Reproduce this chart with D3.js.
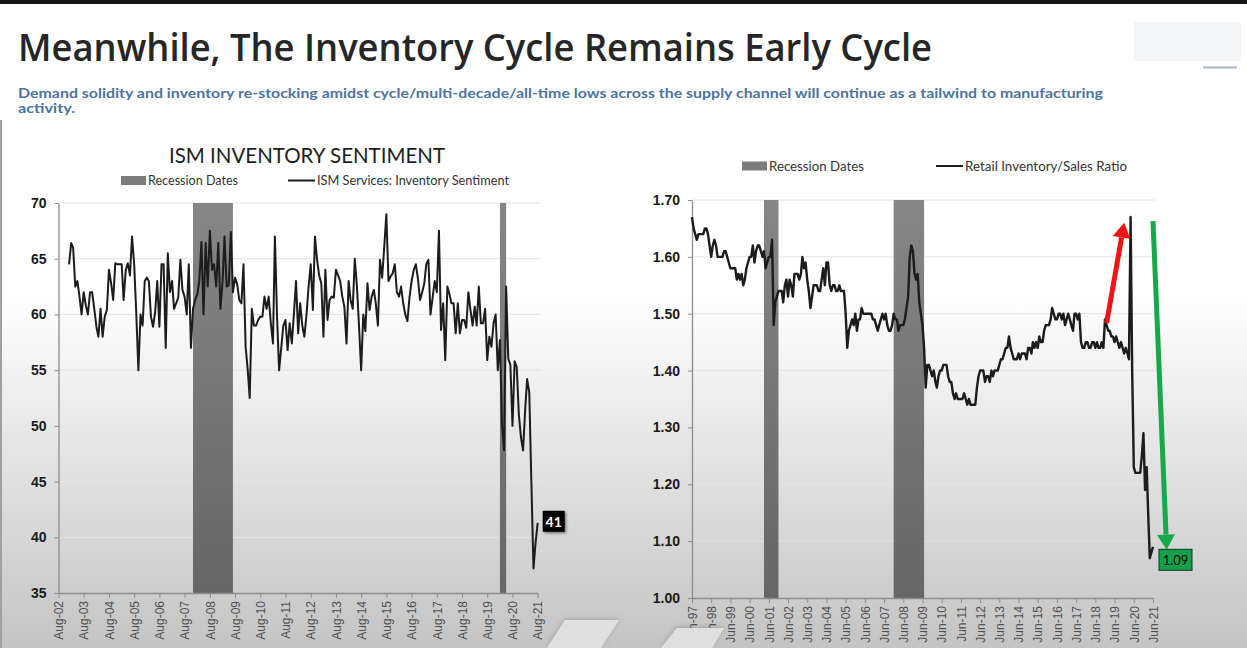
<!DOCTYPE html>
<html>
<head>
<meta charset="utf-8">
<script src="https://cdn.jsdelivr.net/npm/d3@7"></script>
<style>
  body { margin: 0; background: #fff; overflow: hidden; }
  svg { display: block; font-family: Lato, 'Open Sans', sans-serif; }
</style>
</head>
<body>
<svg id="slide" width="1247" height="648"></svg>
<script>
// ISM services inventory sentiment, monthly from Jan-03 to Aug-21
var ismValues = [
  64.5,66.4,66,62.5,63,61.6,60,62,60.8,60,62,62,60.5,58.9,58,60.5,58,59.8,60.4,64,62.8,61.3,64.6,64.5,64.5,64.5,61.3,64,64.6,63.5,67,64.5,60,55,
  60,59,63,63.3,63,59.8,58.9,60.2,63,58.9,64.5,64.5,57,65.5,62,63,60.5,61,61.5,64.9,62.2,61.6,60,64.5,57,60.5,61.3,61.8,63,66.5,
  60,66.4,62.5,67.5,64,64.5,62.5,66.4,60.5,63,67,62.5,62.6,67.4,62,63.3,62.7,61.3,61,64.5,57.1,55,52.5,
  60.5,59,59,59.5,59.8,59.8,61.6,60.5,61.6,59.2,57.4,67,59.8,55,57,59,59.5,56.8,59.2,57.4,60,63,58.3,61,59,58,60,62.5,64.5,60.4,
  67,64.9,63.5,62.8,58,64,59.5,61.3,61.6,61.5,64,63.5,63,61.6,60.7,57.4,63,61.3,60.5,65,62.5,59,55,60,58.5,62.8,60.4,61.6,62.2,61,
  59,64.9,63.3,66,69,
  63,63.4,63.7,64.5,62,61.6,62.5,61,60,59.4,61.5,63,64,64.5,63.2,61.3,62,62.8,64.5,64.9,60,61.5,63,62,67.5,58.6,61,55.9,62.5,61.8,
  61,61,58.3,61,58.3,59.5,59.5,58.8,62,60.4,59,60.7,59,62.5,59.2,59.2,60.5,55.9,58,57.1,59.2,60,55,
  57.7,50.2,47.8,62.5,56,55.5,50,55.8,55.3,51,49,47.8,51.5,54.2,53,45,37.2,39.5,41.3
];
var ismStart = new Date(2003, 0, 1);

// retail inventory/sales ratio, monthly from Jun-97 to Jun-21 (one row = Jun..May)
var rirValues = [
  1.67,1.65,1.64,1.63,1.64,1.64,1.64,1.64,1.65,1.65,1.64,1.62,
  1.60,1.62,1.63,1.62,1.60,1.60,1.60,1.60,1.61,1.61,1.60,1.59,
  1.58,1.58,1.58,1.58,1.56,1.57,1.56,1.57,1.55,1.56,1.58,1.59,
  1.60,1.60,1.62,1.59,1.61,1.62,1.62,1.61,1.60,1.61,1.58,1.59,
  1.60,1.60,1.63,1.48,1.52,1.53,1.54,1.54,1.54,1.52,1.55,1.56,
  1.53,1.56,1.55,1.53,1.57,1.57,1.57,1.56,1.57,1.60,1.58,1.59,
  1.56,1.54,1.51,1.53,1.55,1.55,1.55,1.54,1.54,1.56,1.58,1.55,
  1.59,1.59,1.55,1.54,1.55,1.55,1.54,1.54,1.55,1.54,1.54,1.54,
  1.50,1.44,1.47,1.48,1.49,1.48,1.50,1.47,1.49,1.49,1.51,1.50,
  1.50,1.50,1.50,1.50,1.50,1.49,1.49,1.48,1.47,1.48,1.49,1.50,
  1.49,1.50,1.48,1.47,1.47,1.48,1.50,1.49,1.49,1.47,1.48,1.48,
  1.48,1.49,1.51,1.53,1.60,1.62,1.61,1.57,1.56,1.57,1.52,1.50,
  1.48,1.44,1.37,1.41,1.41,1.40,1.39,1.40,1.38,1.37,1.39,1.40,
  1.40,1.41,1.41,1.41,1.39,1.38,1.38,1.36,1.35,1.36,1.35,1.35,
  1.35,1.35,1.36,1.35,1.34,1.35,1.34,1.34,1.34,1.34,1.37,1.39,
  1.40,1.40,1.40,1.38,1.39,1.39,1.38,1.40,1.39,1.40,1.40,1.40,
  1.41,1.42,1.42,1.43,1.44,1.44,1.46,1.44,1.43,1.42,1.42,1.42,
  1.43,1.42,1.43,1.43,1.43,1.42,1.44,1.44,1.43,1.45,1.44,1.45,
  1.44,1.46,1.45,1.45,1.47,1.48,1.48,1.48,1.49,1.51,1.50,1.49,
  1.49,1.50,1.50,1.49,1.50,1.48,1.49,1.50,1.49,1.48,1.47,1.50,
  1.50,1.49,1.50,1.45,1.44,1.44,1.45,1.45,1.44,1.44,1.45,1.45,
  1.44,1.45,1.44,1.44,1.45,1.44,1.49,1.48,1.47,1.47,1.46,1.46,
  1.45,1.46,1.45,1.44,1.45,1.44,1.43,1.44,1.43,1.42,1.67,1.40,
  1.23,1.22,1.22,1.22,1.22,1.25,1.29,1.19,1.23,1.15,1.07,1.08,
  1.09
];
var rirStart = new Date(1997, 5, 1);

// recession periods [start, end]
var ismRecessions = [[new Date(2007, 11, 1), new Date(2009, 6, 1)], [new Date(2020, 1, 1), new Date(2020, 4, 1)]];
var rirRecessions = [[new Date(2001, 2, 1), new Date(2001, 11, 1)], [new Date(2007, 11, 1), new Date(2009, 6, 1)]];

var ismTicks = [35, 40, 45, 50, 55, 60, 65, 70];
var rirTicks = [1.0, 1.1, 1.2, 1.3, 1.4, 1.5, 1.6, 1.7];
var ismYears = d3.range(2002, 2022);
var rirYears = d3.range(1997, 2022);

// arrows on the right chart [date, value]
var redArrow = [[new Date(2019, 0, 1), 1.484], [new Date(2019, 11, 1), 1.66]];
var greenArrow = [[new Date(2021, 5, 1), 1.663], [new Date(2022, 1, 15), 1.085]];

var svg = d3.select('#slide');
var defs = svg.append('defs');

var bg = defs.append('linearGradient').attr('id', 'bgGrad')
  .attr('gradientUnits', 'userSpaceOnUse').attr('x1', 0).attr('y1', 0).attr('x2', 0).attr('y2', 648);
bg.append('stop').attr('offset', 0.45).attr('stop-color', '#ffffff');
bg.append('stop').attr('offset', 1).attr('stop-color', '#c4c4c4');

var rg = defs.append('linearGradient').attr('id', 'recGrad')
  .attr('x1', 0).attr('y1', 0).attr('x2', 0).attr('y2', 1);
rg.append('stop').attr('offset', 0).attr('stop-color', '#868686');
rg.append('stop').attr('offset', 1).attr('stop-color', '#666666');

var sh = defs.append('filter').attr('id', 'shadow').attr('x', '-30%').attr('y', '-30%').attr('width', '170%').attr('height', '170%');
sh.append('feDropShadow').attr('dx', 1.5).attr('dy', 1.5).attr('stdDeviation', 1.2).attr('flood-color', '#000').attr('flood-opacity', 0.45);
var sh2 = defs.append('filter').attr('id', 'softShadow').attr('x', '-30%').attr('y', '-50%').attr('width', '170%').attr('height', '200%');
sh2.append('feDropShadow').attr('dx', 0).attr('dy', -1).attr('stdDeviation', 2.5).attr('flood-color', '#000').attr('flood-opacity', 0.2);

svg.append('rect').attr('width', 1247).attr('height', 648).attr('fill', 'url(#bgGrad)');
svg.append('rect').attr('width', 1247).attr('height', 4).attr('fill', '#151515');
svg.append('rect').attr('x', 0).attr('y', 120).attr('width', 2).attr('height', 528).attr('fill', '#a0a0a0');

// slide header
svg.append('rect').attr('x', 1134).attr('y', 22).attr('width', 107).attr('height', 39).attr('fill', '#f4f5f6');
svg.append('line').attr('x1', 1203).attr('x2', 1237).attr('y1', 67.5).attr('y2', 67.5)
  .attr('stroke', '#a9b1c7').attr('stroke-width', 2);

svg.append('text')
  .attr('x', 18).attr('y', 61)
  .attr('textLength', 914).attr('lengthAdjust', 'spacingAndGlyphs')
  .style('font-family', "'Open Sans', sans-serif")
  .style('font-size', '38px').style('font-weight', 600).attr('fill', '#262626')
  .text('Meanwhile, The Inventory Cycle Remains Early Cycle');

svg.append('text')
  .attr('x', 18).attr('y', 98)
  .attr('textLength', 1085).attr('lengthAdjust', 'spacingAndGlyphs')
  .style('font-size', '13px').style('font-weight', 700).attr('fill', '#4e73a0')
  .text('Demand solidity and inventory re-stocking amidst cycle/multi-decade/all-time lows across the supply channel will continue as a tailwind to manufacturing');
svg.append('text')
  .attr('x', 18).attr('y', 113)
  .attr('textLength', 57).attr('lengthAdjust', 'spacingAndGlyphs')
  .style('font-size', '13px').style('font-weight', 700).attr('fill', '#4e73a0')
  .text('activity.');

function drawPanel(p) {
  var x = d3.scaleTime().domain([p.xStart, p.xEnd]).range([p.left, p.right]);
  var y = d3.scaleLinear().domain([p.yTicks[0], p.yTicks[p.yTicks.length - 1]]).range([p.bottom, p.top]);
  var g = svg.append('g');

  g.selectAll('line.grid').data(p.yTicks.slice(1)).join('line')
    .attr('class', 'grid')
    .attr('x1', p.left).attr('x2', p.right + 3)
    .attr('y1', function(d) { return y(d); }).attr('y2', function(d) { return y(d); })
    .attr('stroke', '#e4e4e4').attr('stroke-width', 1);

  g.selectAll('rect.rec').data(p.recessions).join('rect')
    .attr('class', 'rec')
    .attr('x', function(d) { return x(d[0]); })
    .attr('width', function(d) { return x(d[1]) - x(d[0]); })
    .attr('y', p.top).attr('height', p.bottom - p.top)
    .attr('fill', 'url(#recGrad)');

  var ya = g.append('g')
    .attr('transform', 'translate(' + p.left + ',0)')
    .call(d3.axisLeft(y).tickValues(p.yTicks).tickSize(4).tickSizeOuter(0).tickFormat(p.yFormat));
  ya.selectAll('text').attr('x', -12)
    .style('font-size', '14px').style('font-weight', 700).attr('fill', '#1a1a1a');

  var xa = g.append('g')
    .attr('transform', 'translate(0,' + p.bottom + ')')
    .call(d3.axisBottom(x).tickValues(p.years.map(function(yr) { return new Date(yr, p.month, 1); }))
      .tickSize(5).tickSizeOuter(0).tickFormat(d3.timeFormat('%b-%y')));
  xa.selectAll('text')
    .attr('transform', 'rotate(-90)')
    .attr('x', -8).attr('y', 0).attr('dy', '0.35em')
    .style('text-anchor', 'end').style('font-size', '12px').attr('fill', '#505050');

  [ya, xa].forEach(function(a) {
    a.select('.domain').attr('stroke', '#8c8c8c').attr('stroke-width', 1.3);
    a.selectAll('.tick line').attr('stroke', '#8c8c8c');
  });

  var series = p.values.map(function(v, i) { return { date: d3.timeMonth.offset(p.start, i), value: v }; });
  g.append('path')
    .datum(series)
    .attr('fill', 'none')
    .attr('stroke', '#1c1c1c').attr('stroke-width', p.lineWidth)
    .attr('stroke-linejoin', 'round')
    .attr('d', d3.line().x(function(d) { return x(d.date); }).y(function(d) { return y(d.value); }));

  // legend
  var lg = g.append('g').style('font-size', '13px').attr('fill', '#333');
  lg.append('rect').attr('x', p.legend[0]).attr('y', p.legendY - 4.5).attr('width', 25).attr('height', 9).attr('fill', '#7c7c7c');
  lg.append('text').attr('x', p.legend[0] + 27).attr('y', p.legendY + 4.5)
    .attr('textLength', p.legend[1]).attr('lengthAdjust', 'spacingAndGlyphs').text('Recession Dates');
  lg.append('line').attr('x1', p.legend[2]).attr('x2', p.legend[2] + 27)
    .attr('y1', p.legendY).attr('y2', p.legendY).attr('stroke', '#1c1c1c').attr('stroke-width', 2);
  lg.append('text').attr('x', p.legend[2] + 29).attr('y', p.legendY + 4.5)
    .attr('textLength', p.legend[3]).attr('lengthAdjust', 'spacingAndGlyphs').text(p.name);

  return { x: x, y: y, g: g, last: series[series.length - 1] };
}

var left = drawPanel({
  xStart: new Date(2002, 7, 1), xEnd: new Date(2021, 7, 1),
  left: 58.5, right: 537.7, top: 203, bottom: 593,
  yTicks: ismTicks, yFormat: d3.format('d'),
  years: ismYears, month: 7,
  recessions: ismRecessions,
  values: ismValues, start: ismStart, lineWidth: 2,
  legend: [121, 90, 288, 192], legendY: 180.5,
  name: 'ISM Services: Inventory Sentiment'
});

svg.append('text')
  .attr('x', 169).attr('y', 163)
  .attr('textLength', 276).attr('lengthAdjust', 'spacingAndGlyphs')
  .style('font-size', '22px').attr('fill', '#1e1e1e')
  .text('ISM INVENTORY SENTIMENT');

var right = drawPanel({
  xStart: new Date(1997, 5, 1), xEnd: new Date(2021, 5, 1),
  left: 692, right: 1153, top: 200, bottom: 598,
  yTicks: rirTicks, yFormat: d3.format('.2f'),
  years: rirYears, month: 5,
  recessions: rirRecessions,
  values: rirValues, start: rirStart, lineWidth: 2.4,
  legend: [742, 95, 936, 162], legendY: 166,
  name: 'Retail Inventory/Sales Ratio'
});

// arrows
function arrow(g, sc, pts, color) {
  var x0 = sc.x(pts[0][0]), y0 = sc.y(pts[0][1]);
  var x1 = sc.x(pts[1][0]), y1 = sc.y(pts[1][1]);
  var a = Math.atan2(y1 - y0, x1 - x0);
  var hl = 15, hw = 9;
  var bx = x1 - hl * Math.cos(a), by = y1 - hl * Math.sin(a);
  g.append('line').attr('x1', x0).attr('y1', y0).attr('x2', bx).attr('y2', by)
    .attr('stroke', color).attr('stroke-width', 5);
  g.append('polygon')
    .attr('points', [[x1, y1], [bx + hw * Math.sin(a), by - hw * Math.cos(a)], [bx - hw * Math.sin(a), by + hw * Math.cos(a)]].join(' '))
    .attr('fill', color);
}
arrow(right.g, right, redArrow, '#f01414');
arrow(right.g, right, greenArrow, '#17a84a');

// end-value labels
var lx = left.x(left.last.date), ly = left.y(left.last.value);
left.g.append('rect').attr('x', lx + 5).attr('y', ly - 12).attr('width', 22).attr('height', 21)
  .attr('fill', '#000').attr('filter', 'url(#shadow)');
left.g.append('text').attr('x', lx + 16).attr('y', ly + 4).attr('text-anchor', 'middle')
  .style('font-size', '14px').style('font-weight', 700).attr('fill', '#fff')
  .text(d3.format('d')(left.last.value));

var rx = right.x(right.last.date), ry = right.y(right.last.value);
right.g.append('rect').attr('x', rx + 6).attr('y', ry + 2.5).attr('width', 33).attr('height', 21)
  .attr('fill', '#14a04a').attr('stroke', '#0d3a1c').attr('stroke-width', 1);
right.g.append('text').attr('x', rx + 22.5).attr('y', ry + 18).attr('text-anchor', 'middle')
  .style('font-size', '13px').attr('fill', '#0a0a0a')
  .text(d3.format('.2f')(right.last.value));

// slide decorations at the bottom
svg.append('polygon').attr('points', '565,620 619,620 601,648 547,648')
  .attr('fill', '#e0e0e0').attr('filter', 'url(#softShadow)');
svg.append('polygon').attr('points', '677,628 724,628 712,648 661,648')
  .attr('fill', '#e0e0e0').attr('filter', 'url(#softShadow)');
</script>
</body>
</html>
